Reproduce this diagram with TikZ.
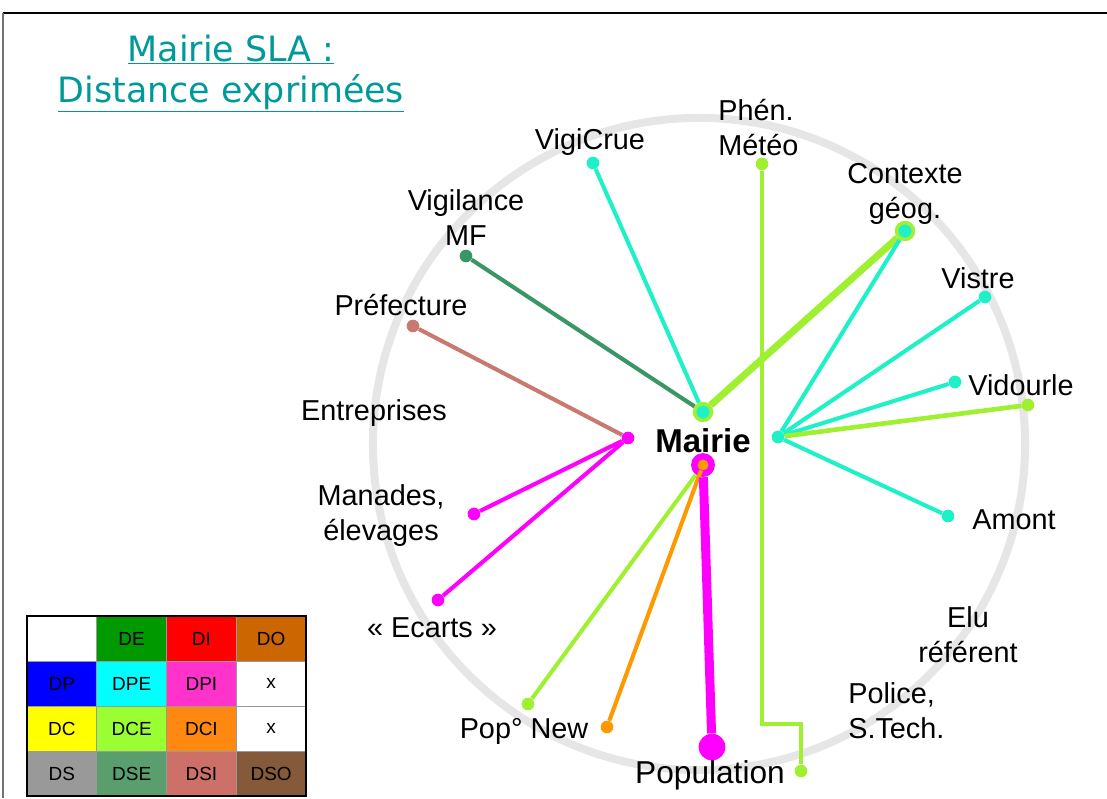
\documentclass[tikz,border=0pt]{standalone}
\usepackage{fontspec}
\setmainfont{Liberation Sans}
\newfontfamily\titlefont{DejaVu Sans}

\definecolor{turq}{RGB}{30,240,200}
\definecolor{ygreen}{RGB}{160,240,50}
\definecolor{mfgreen}{RGB}{58,150,100}
\definecolor{prefrose}{RGB}{200,122,112}
\definecolor{popmag}{RGB}{255,0,255}
\definecolor{neworange}{RGB}{255,153,0}
\definecolor{ringgray}{RGB}{230,230,230}
\definecolor{titleteal}{RGB}{0,153,153}
\definecolor{cDE}{RGB}{0,153,0}
\definecolor{cDI}{RGB}{255,0,0}
\definecolor{cDO}{RGB}{204,102,0}
\definecolor{cDP}{RGB}{0,0,255}
\definecolor{cDPE}{RGB}{0,255,255}
\definecolor{cDPI}{RGB}{255,51,204}
\definecolor{cDC}{RGB}{255,255,0}
\definecolor{cDCE}{RGB}{153,255,51}
\definecolor{cDCI}{RGB}{255,136,17}
\definecolor{cDS}{RGB}{153,153,153}
\definecolor{cDSE}{RGB}{90,158,110}
\definecolor{cDSI}{RGB}{204,112,104}
\definecolor{cDSO}{RGB}{133,90,58}

\tikzset{
  enddot/.style={circle,fill=#1,inner sep=0pt,minimum size=9pt},
  hubdot/.style={circle,fill=turq,draw=ygreen,line width=2.5pt,inner sep=0pt,minimum size=12pt},
  lbl/.style={font=\fontsize{20.5}{24.9}\selectfont,inner sep=0pt,align=center},
  link/.style={draw=#1,line width=2.9pt},
  cell/.style={fill=#1,draw=black!40,line width=0.4pt,inner sep=0pt,
    minimum width=1.744cm,minimum height=1.125cm,font=\fontsize{13.5}{15}\selectfont}
}

\begin{document}
\begin{tikzpicture}[x=0.025cm,y=-0.025cm]
\useasboundingbox (0,0) rectangle (1107,798);
\draw[line width=1.3pt] (3,13) -- (1107,13);
\draw[black!55,line width=1.3pt] (3,13) -- (3,798);

\node[anchor=base,text=titleteal,font=\titlefont\fontsize{24.8}{30}\selectfont,inner sep=0pt] (titleA) at (231,61) {\underline{Mairie SLA :}};
\node[anchor=base,text=titleteal,font=\titlefont\fontsize{24.8}{30}\selectfont,inner sep=0pt] (titleB) at (231,102) {\underline{Distance exprimées}};

\draw[ringgray,line width=5.7pt] (699,444) circle[radius=8.15cm];

% hubs
\node[hubdot] (hubtop) at (703,412) {};
\node[enddot=popmag,minimum size=17pt] (hubbot) at (703,465) {};
\node[enddot=neworange,minimum size=7.8pt] (hubbotin) at (703,465) {};
\node[enddot=popmag] (hubleft) at (628,438) {};
\node[enddot=turq] (hubright) at (778,437) {};

% ends
\node[enddot=turq] (vigicrue) at (593,163) {};
\node[enddot=ygreen] (meteo) at (762,164) {};
\node[hubdot] (contexte) at (905,231) {};
\node[enddot=mfgreen] (vigimf) at (466,256) {};
\node[enddot=prefrose] (prefecture) at (413,326) {};
\node[enddot=turq] (vistre) at (985,297) {};
\node[enddot=turq] (vidourle) at (955,382) {};
\node[enddot=ygreen] (vidourleb) at (1028,405) {};
\node[enddot=turq] (amont) at (948,516) {};
\node[enddot=popmag] (manades) at (474,514) {};
\node[enddot=popmag] (ecarts) at (438,600) {};
\node[enddot=ygreen] (popnew) at (528,704) {};
\node[enddot=neworange] (popnewb) at (607,727) {};
\node[enddot=popmag,minimum size=19pt] (population) at (712,747) {};
\node[enddot=ygreen] (police) at (801,771) {};
\coordinate (bend) at (801,724);

\draw[link=turq] (hubtop) -- (vigicrue);
\draw[link=mfgreen] (hubtop) -- (vigimf);
\draw[link=ygreen,line width=5pt] (hubtop) -- (contexte);
\draw[link=turq] (hubright) -- (contexte);
\draw[link=turq] (hubright) -- (vistre);
\draw[link=turq] (hubright) -- (vidourle);
\draw[link=ygreen,line width=3.3pt] (hubright) -- (vidourleb);
\draw[link=turq] (hubright) -- (amont);
\draw[link=prefrose] (hubleft) -- (prefecture);
\draw[link=popmag] (hubleft) -- (manades);
\draw[link=popmag] (hubleft) -- (ecarts);
\draw[link=ygreen] (hubbot) -- (popnew);
\draw[link=neworange] (hubbotin) -- (popnewb);
\draw[link=popmag,line width=6.4pt] (hubbot) -- (population);
\draw[link=ygreen] (meteo) |- (bend) -- (police);

\node[font=\bfseries\fontsize{23.5}{28}\selectfont,inner sep=0pt] (mairie) at (703,441) {Mairie};
\node[lbl] (tVigicrue) at (590,142) {VigiCrue};
\node[lbl,align=left,anchor=west] (tMeteo) at (718,128) {Phén.\\Météo};
\node[lbl] (tContexte) at (905,194) {Contexte\\géog.};
\node[lbl] (tVigimf) at (466,218) {Vigilance\\MF};
\node[lbl] (tPrefecture) at (401,305) {Préfecture};
\node[lbl] (tVistre) at (978,278) {Vistre};
\node[lbl] (tVidourle) at (1021,385) {Vidourle};
\node[lbl] (tEntreprises) at (374,413) {Entreprises};
\node[lbl] (tAmont) at (1014,520) {Amont};
\node[lbl] (tManades) at (381,516) {Manades,\\élevages};
\node[lbl] (tEcarts) at (432,628) {« Ecarts »};
\node[lbl] (tElu) at (968,635) {Elu\\référent};
\node[lbl,align=left,anchor=west] (tPolice) at (848,711) {Police,\\S.Tech.};
\node[lbl] (tPopnew) at (524,731) {Pop° New};
\node[lbl,font=\fontsize{22.5}{27}\selectfont] (tPopulation) at (710,775) {Population};

% legend
\foreach \txt/\col [count=\i from 0] in {/white,DE/cDE,DI/cDI,DO/cDO,
    DP/cDP,DPE/cDPE,DPI/cDPI,x/white,
    DC/cDC,DCE/cDCE,DCI/cDCI,x/white,
    DS/cDS,DSE/cDSE,DSI/cDSI,DSO/cDSO}{
  \pgfmathtruncatemacro\cc{mod(\i,4)}
  \pgfmathtruncatemacro\rr{\i/4}
  \node[cell=\col] (leg\i) at (61.9+69.75*\cc,638.5+45*\rr) {\txt};
}
\draw[line width=1.6pt] (leg0.north west) rectangle (leg15.south east);
\end{tikzpicture}
\end{document}
